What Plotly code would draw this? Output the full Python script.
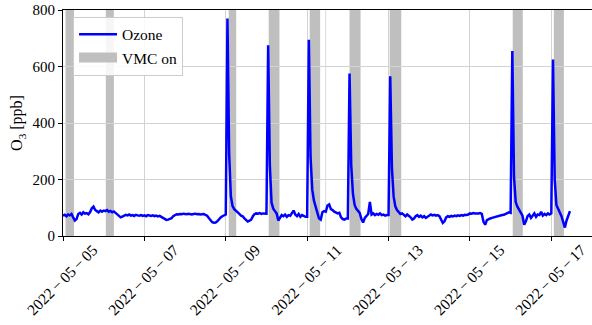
import pandas as pd
import plotly.graph_objects as go

# ---------------- data ----------------
start_time = "2022-05-05 00:00"

# hourly ozone readings [ppb], one row per day (05-05 ... 05-17 11:00)
ozone_ppb = [
    72, 75, 70, 76, 73, 78, 66, 55, 60, 78, 82, 76, 84, 79, 81, 77, 85, 98, 104, 92, 88, 84, 90, 86,      # 05-05
    90, 88, 92, 86, 89, 84, 87, 82, 76, 70, 66, 69, 72, 75, 73, 76, 72, 74, 71, 75, 73, 72, 74, 71,       # 05-06
    73, 70, 74, 72, 71, 73, 70, 72, 69, 71, 68, 64, 60, 57, 58, 60, 63, 70, 75, 77, 76, 78, 77, 79,       # 05-07
    78, 77, 79, 78, 76, 78, 79, 77, 78, 76, 77, 78, 75, 72, 64, 55, 49, 47, 48, 52, 60, 66, 70, 73,       # 05-08
    76, 770, 290, 140, 106, 95, 88, 84, 78, 72, 70, 62, 55, 51, 54, 58, 70, 78, 80, 79, 81, 78, 80, 79,   # 05-09
    79, 675, 250, 118, 97, 88, 80, 55, 66, 74, 70, 76, 68, 74, 72, 80, 90, 76, 70, 78, 68, 74, 70, 68,    # 05-10
    68, 695, 280, 165, 125, 102, 84, 62, 58, 84, 88, 86, 108, 112, 95, 92, 86, 84, 80, 82, 66, 60, 58, 62,  # 05-11
    62, 575, 250, 150, 110, 96, 88, 82, 60, 48, 64, 72, 78, 121, 76, 80, 74, 78, 75, 80, 74, 76, 72, 74,  # 05-12
    74, 565, 240, 140, 105, 92, 84, 78, 80, 74, 70, 76, 72, 66, 58, 62, 70, 74, 68, 72, 66, 70, 64, 68,   # 05-13
    74, 76, 73, 75, 72, 74, 70, 60, 46, 52, 66, 70, 68, 71, 69, 72, 70, 73, 71, 74, 72, 75, 74, 76,       # 05-14
    80, 79, 81, 80, 79, 80, 81, 78, 50, 40, 56, 60, 62, 64, 66, 67, 69, 70, 72, 74, 75, 78, 80, 84,       # 05-15
    82, 655, 210, 120, 104, 94, 86, 72, 40, 52, 70, 76, 64, 72, 80, 68, 76, 74, 86, 72, 78, 74, 80, 76,   # 05-16
    80, 625, 200, 110, 96, 88, 70, 50, 30, 55, 72, 88,                                                   # 05-17
]

# periods when the VMC was switched on
vmc_start = ["2022-05-05 01:30", "2022-05-06 01:15", "2022-05-09 01:45", "2022-05-10 01:20",
             "2022-05-11 01:30", "2022-05-11 10:50", "2022-05-12 01:00", "2022-05-13 00:40",
             "2022-05-16 01:15", "2022-05-17 01:30"]
vmc_end = ["2022-05-05 06:30", "2022-05-06 06:00", "2022-05-09 06:10", "2022-05-10 07:40",
           "2022-05-11 07:40", "2022-05-11 11:10", "2022-05-12 07:30", "2022-05-13 07:30",
           "2022-05-16 07:10", "2022-05-17 07:25"]

x_tick_vals = ["2022-05-05", "2022-05-07", "2022-05-09", "2022-05-11",
               "2022-05-13", "2022-05-15", "2022-05-17"]
x_tick_text = ["2022\u2009\u2212\u200905\u2009\u2212\u200905", "2022\u2009\u2212\u200905\u2009\u2212\u200907",
               "2022\u2009\u2212\u200905\u2009\u2212\u200909", "2022\u2009\u2212\u200905\u2009\u2212\u200911",
               "2022\u2009\u2212\u200905\u2009\u2212\u200913", "2022\u2009\u2212\u200905\u2009\u2212\u200915",
               "2022\u2009\u2212\u200905\u2009\u2212\u200917"]
y_tick_vals = [0, 200, 400, 600, 800]

# ---------------- figure ----------------
times = pd.date_range(start_time, periods=len(ozone_ppb), freq="h")

FONT = "Liberation Serif"
SPAN_COLOR = "#bfbfbf"

fig = go.Figure()
fig.add_trace(go.Scatter(x=times, y=ozone_ppb, mode="lines", name="Ozone",
                         line=dict(color="#0000ff", width=2.5)))
fig.add_trace(go.Scatter(x=[None], y=[None], mode="lines", name="VMC on",
                         line=dict(color=SPAN_COLOR, width=10)))

for s, e in zip(vmc_start, vmc_end):
    fig.add_vrect(x0=s, x1=e, fillcolor=SPAN_COLOR, opacity=1, line_width=0, layer="below")

fig.update_layout(
    width=592, height=325,
    margin=dict(l=63, r=0, t=10, b=89),
    paper_bgcolor="white", plot_bgcolor="white",
    font=dict(family=FONT, size=15, color="black"),
    showlegend=True,
    legend=dict(x=0.019, y=0.97, xanchor="left", yanchor="top",
                bgcolor="rgba(255,255,255,0.85)", bordercolor="#cccccc", borderwidth=1,
                itemwidth=38, font=dict(family=FONT, size=15.5)),
)
fig.update_xaxes(
    type="date", range=["2022-05-05 00:00", "2022-05-18 00:00"],
    tickmode="array", tickvals=x_tick_vals, ticktext=x_tick_text,
    tickangle=-45, ticklabelshift=30, ticklabelstandoff=-6,
    ticklabeloverflow="allow", automargin=False,
    showgrid=True, gridcolor="#d3d3d3", gridwidth=1,
    showline=True, linecolor="black", linewidth=1, mirror=True,
    ticks="outside", ticklen=4, tickcolor="black",
    tickfont=dict(family=FONT, size=15.5),
    zeroline=False,
)
fig.update_yaxes(
    range=[0, 800], tickmode="array", tickvals=y_tick_vals,
    ticklabeloverflow="allow", automargin=False,
    showgrid=True, gridcolor="#d3d3d3", gridwidth=1,
    showline=True, linecolor="black", linewidth=1,
    ticks="outside", ticklen=4, tickcolor="black",
    tickfont=dict(family=FONT, size=15),
    title=dict(text="O<sub>3</sub> [ppb]", font=dict(family=FONT, size=16), standoff=5),
    zeroline=False,
)

# remove the browser's default 8px body margin so the figure fills the window
fig.write_html("out.html", config={"displayModeBar": False},
               post_script="document.body.style.margin='0';")
